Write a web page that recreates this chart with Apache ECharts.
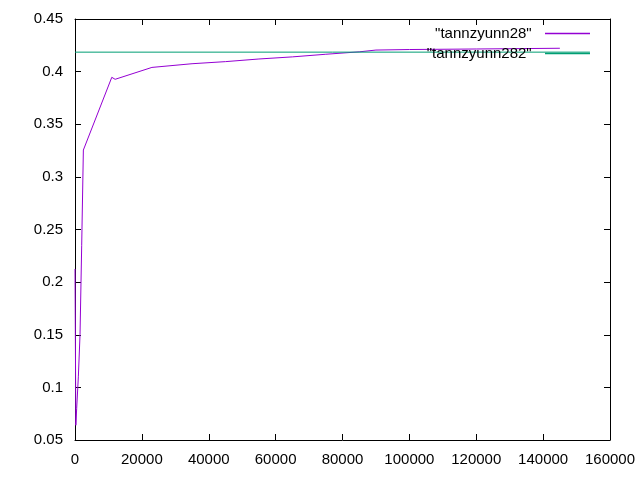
<!DOCTYPE html>
<html>
<head>
<meta charset="utf-8">
<script src="https://cdn.jsdelivr.net/npm/echarts@6/dist/echarts.min.js"></script>
<style>
  html, body { margin: 0; padding: 0; background: #fff; }
  #chart { width: 640px; height: 480px; }
</style>
</head>
<body>
<div id="chart"></div>
<script>
// series names as in the key
const seriesNames = ['"tannzyunn28"', '"tannzyunn282"'];

// "tannzyunn28"
const xs28 = [0, 250, 500, 1000, 1500, 2000, 2500, 11000, 12000, 23000, 35000, 45000,
  55000, 65000, 75000, 85000, 90000, 100000, 120000, 145000];
const ys28 = [0.2125, 0.064, 0.08, 0.11, 0.15, 0.235, 0.3255, 0.3946, 0.3927, 0.404, 0.4075, 0.4095,
  0.412, 0.414, 0.4165, 0.4188, 0.4205, 0.421, 0.4215, 0.4222];

// "tannzyunn282" is flat
const xs282 = [0, 154000];
const ys282 = [0.4185, 0.4185];

// axes
const xMin = 0, xMax = 160000, xStep = 20000;
const yMin = 0.05, yMax = 0.45, yStep = 0.05;

const font = 'Liberation Sans, Arial, sans-serif';
const fontSize = 15;

const pairs = (xs, ys) => xs.map((x, i) => [x, ys[i]]);

// ticks inside, on all four sides like gnuplot
const tickIn = { show: true, inside: true, length: 6, lineStyle: { color: '#000', width: 1 } };
const border = { show: true, onZero: false, lineStyle: { color: '#000', width: 1 } };

const chart = echarts.init(document.getElementById('chart'));
chart.setOption({
  animation: false,
  backgroundColor: '#fff',
  grid: { left: 75, right: 30, top: 19, bottom: 40, containLabel: false },
  legend: {
    orient: 'vertical',
    align: 'right',
    right: 45,
    top: 21,
    icon: 'path://M0,0L450,0L450,14L0,14Z',
    itemWidth: 45,
    itemHeight: 1.4,
    itemGap: 5,
    formatter: name => name + '  ',
    textStyle: { fontFamily: font, fontSize: fontSize, color: '#000' },
    data: [
      { name: seriesNames[0], itemStyle: { color: '#9400d3' } },
      { name: seriesNames[1], itemStyle: { color: '#009e73' } }
    ]
  },
  xAxis: [
    {
      type: 'value', min: xMin, max: xMax, interval: xStep,
      axisLine: border, axisTick: tickIn, splitLine: { show: false },
      axisLabel: { fontFamily: font, fontSize: fontSize, color: '#000', margin: 12,
        formatter: v => String(v) }
    },
    {
      type: 'value', position: 'top', min: xMin, max: xMax, interval: xStep,
      axisLine: border, axisTick: tickIn, splitLine: { show: false },
      axisLabel: { show: false }
    }
  ],
  yAxis: [
    {
      type: 'value', min: yMin, max: yMax, interval: yStep,
      axisLine: border, axisTick: tickIn, splitLine: { show: false },
      axisLabel: {
        fontFamily: font, fontSize: fontSize, color: '#000', margin: 12,
        formatter: v => String(parseFloat(v.toFixed(2)))
      }
    },
    {
      type: 'value', position: 'right', min: yMin, max: yMax, interval: yStep,
      axisLine: border, axisTick: tickIn, splitLine: { show: false },
      axisLabel: { show: false }
    }
  ],
  series: [
    {
      name: seriesNames[0], type: 'line', symbol: 'none',
      data: pairs(xs28, ys28),
      lineStyle: { color: '#9400d3', width: 1 }, itemStyle: { color: '#9400d3' }
    },
    {
      name: seriesNames[1], type: 'line', symbol: 'none',
      data: pairs(xs282, ys282),
      lineStyle: { color: '#009e73', width: 1 }, itemStyle: { color: '#009e73' }
    }
  ]
});
</script>
</body>
</html>
